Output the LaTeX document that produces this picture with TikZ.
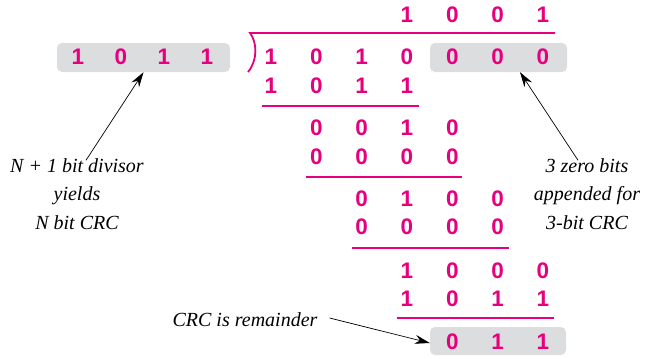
\documentclass[tikz,border=0pt]{standalone}
\usepackage{fontspec}
\setmainfont{Liberation Serif}
\newfontfamily\digitfont{Liberation Sans}
\usetikzlibrary{arrows.meta,calc}
\definecolor{crcpink}{HTML}{E6007E}
\definecolor{boxgray}{HTML}{DCDDDF}
\begin{document}
\begin{tikzpicture}[x=1pt,y=-1pt,
  bit/.style={font=\digitfont\bfseries\fontsize{22.5}{22.5}\selectfont, text=crcpink, inner sep=0pt, anchor=center},
  note/.style={font=\itshape\fontsize{20}{28.5}\selectfont, align=center, inner sep=0pt},
  rulebar/.style={draw=crcpink, line width=2pt},
  shadebox/.style={fill=boxgray, rounded corners=5pt, inner sep=0pt},
  pointer/.style={-{Stealth[length=15pt,width=9pt,inset=5pt]}, line width=0.7pt}]
\useasboundingbox (0,0) rectangle (646,359);

% shaded boxes
\node[shadebox, minimum width=173pt, minimum height=29pt] (divbox) at (143.5,57.5) {};
\node[shadebox, minimum width=137pt, minimum height=29pt] (zbox) at (498.5,57.5) {};
\node[shadebox, minimum width=136pt, minimum height=28pt] (rembox) at (498,341) {};

% divisor
\foreach \d [count=\i] in {1,0,1,1}
  \node[bit] (dv-\i) at ({78+43*(\i-1)},57) {\d};

% division bracket
\draw[rulebar, line width=1.8pt] (248,72) .. controls (258,60) and (257,42) .. (250,33) -- (555,33);

% rows: name / start column / y / digits
\foreach \nm/\sc/\yy/\digits in {q/4/15/{1,0,0,1},
    ra/1/57/{1,0,1,0,0,0,0},
    rb/1/86/{1,0,1,1},
    rc/2/128/{0,0,1,0},
    rd/2/157/{0,0,0,0},
    re/3/199/{0,1,0,0},
    rf/3/227/{0,0,0,0},
    rg/4/271/{1,0,0,0},
    rh/4/299/{1,0,1,1},
    ri/5/342/{0,1,1}}
  \foreach \d [count=\i] in \digits
    \node[bit] (\nm-\i) at ({271+45.33*(\sc+\i-2)},\yy) {\d};

% subtraction rules
\draw[rulebar] ($(rb-1)+(-9,20)$) -- ($(rb-4)+(12,20)$);
\draw[rulebar] ($(rd-1)+(-10,19.5)$) -- ($(rd-4)+(10,19.5)$);
\draw[rulebar] ($(rf-1)+(-10,21)$) -- ($(rf-4)+(11,21)$);
\draw[rulebar] ($(rh-1)+(-10,19)$) -- ($(rh-4)+(11,19)$);

% notes
\node[note] (divnote) at (77,194) {N + 1 bit divisor\\yields\\N bit CRC};
\node[note] (appnote) at (587,194) {3 zero bits\\appended for\\3-bit CRC};
\node[note] (remnote) at (245,320) {CRC is remainder};

% pointers
\draw[pointer] ([xshift=9pt,yshift=-2pt]divnote.north) -- (divbox.south);
\draw[pointer] ([xshift=-9pt,yshift=-2pt]appnote.north) -- ([xshift=21.5pt]zbox.south);
\draw[pointer] ([xshift=12pt,yshift=2pt]remnote.east) -- ([yshift=-2pt]rembox.west);
\end{tikzpicture}
\end{document}
